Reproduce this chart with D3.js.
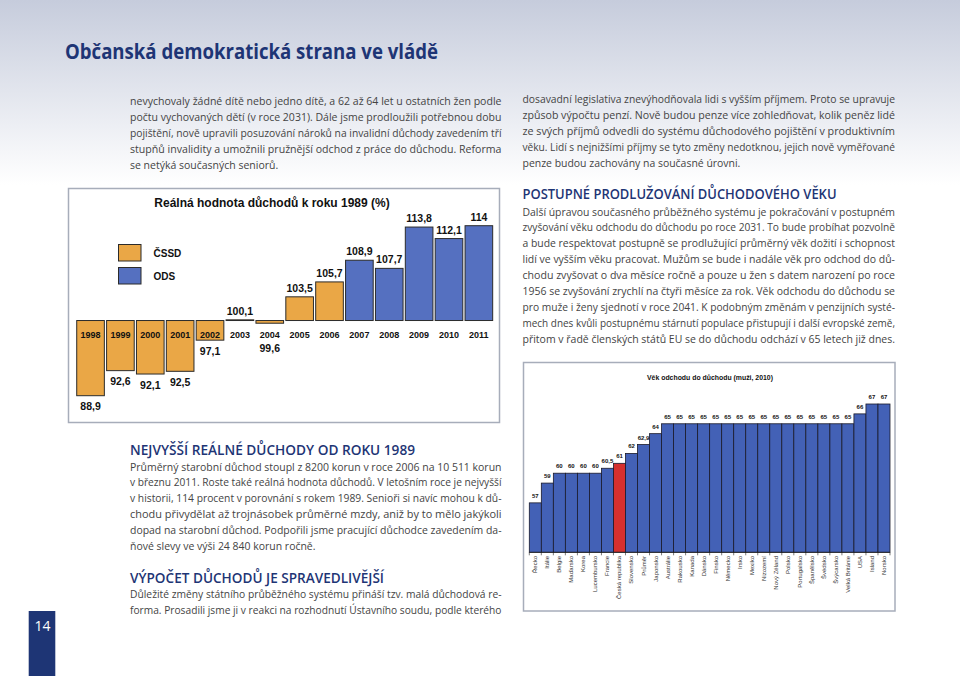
<!DOCTYPE html>
<html><head><meta charset="utf-8">
<script src="https://cdn.jsdelivr.net/npm/d3@7"></script>
<style>
html,body{margin:0;padding:0;background:#fff;}
svg{display:block;}
</style></head>
<body>
<svg id="page" width="960" height="676"></svg>
<script>
// ---------- DATA ----------
const years = ["1998","1999","2000","2001","2002","2003","2004","2005","2006","2007","2008","2009","2010","2011"];
const realPensionValue = [88.9, 92.6, 92.1, 92.5, 97.1, 100.1, 99.6, 103.5, 105.7, 108.9, 107.7, 113.8, 112.1, 114];
const governingParty = ["ČSSD","ČSSD","ČSSD","ČSSD","ČSSD","ČSSD","ČSSD","ČSSD","ČSSD","ODS","ODS","ODS","ODS","ODS"];
const partyLegend = ["ČSSD","ODS"];
const baseValue = 100;

const countries = ["Řecko","Itálie","Belgie","Maďarsko","Korea","Lucembursko","Francie","Česká republika","Slovensko","Průměr","Japonsko","Austrálie","Rakousko","Kanada","Dánsko","Finsko","Německo","Irsko","Mexiko","Nizozemí","Nový Zéland","Polsko","Portugalsko","Španělsko","Švédsko","Švýcarsko","Velká Británie","USA","Island","Norsko"];
const retirementAge = [57, 59, 60, 60, 60, 60, 60.5, 61, 62, 62.9, 64, 65, 65, 65, 65, 65, 65, 65, 65, 65, 65, 65, 65, 65, 65, 65, 65, 66, 67, 67];
const highlightCountry = "Česká republika";

const pageTitle = "Občanská demokratická strana ve vládě";
const chart1Title = "Reálná hodnota důchodů k roku 1989 (%)";
const chart2Title = "Věk odchodu do důchodu (muži, 2010)";

const paraLeftTop = [
 "nevychovaly žádné dítě nebo jedno dítě, a 62 až 64 let u ostatních žen podle",
 "počtu vychovaných dětí (v roce 2031). Dále jsme prodloužili potřebnou dobu",
 "pojištění, nově upravili posuzování nároků na invalidní důchody zavedením tří",
 "stupňů invalidity a umožnili pružnější odchod z práce do důchodu. Reforma",
 "se netýká současných seniorů."];
const paraRightTop = [
 "dosavadní legislativa znevýhodňovala lidi s vyšším příjmem. Proto se upravuje",
 "způsob výpočtu penzí. Nově budou penze více zohledňovat, kolik peněz lidé",
 "ze svých příjmů odvedli do systému důchodového pojištění v produktivním",
 "věku. Lidí s nejnižšími příjmy se tyto změny nedotknou, jejich nově vyměřované",
 "penze budou zachovány na současné úrovni."];
const headRight = "POSTUPNÉ PRODLUŽOVÁNÍ DŮCHODOVÉHO VĚKU";
const paraRight = [
 "Další úpravou současného průběžného systému je pokračování v postupném",
 "zvyšování věku odchodu do důchodu po roce 2031. To bude probíhat pozvolně",
 "a bude respektovat postupně se prodlužující průměrný věk dožití i schopnost",
 "lidí ve vyšším věku pracovat. Mužům se bude i nadále věk pro odchod do dů-",
 "chodu zvyšovat o dva měsíce ročně a pouze u žen s datem narození po roce",
 "1956 se zvyšování zrychlí na čtyři měsíce za rok. Věk odchodu do důchodu se",
 "pro muže i ženy sjednotí v roce 2041. K podobným změnám v penzijních systé-",
 "mech dnes kvůli postupnému stárnutí populace přistupují i další evropské země,",
 "přitom v řadě členských států EU se do důchodu odchází v 65 letech již dnes."];
const headLeft1 = "NEJVYŠŠÍ REÁLNÉ DŮCHODY OD ROKU 1989";
const paraLeft1 = [
 "Průměrný starobní důchod stoupl z 8200 korun v roce 2006 na 10 511 korun",
 "v březnu 2011. Roste také reálná hodnota důchodů. V letošním roce je nejvyšší",
 "v historii, 114 procent v porovnání s rokem 1989. Senioři si navíc mohou k dů-",
 "chodu přivydělat až trojnásobek průměrné mzdy, aniž by to mělo jakýkoli",
 "dopad na starobní důchod. Podpořili jsme pracující důchodce zavedením da-",
 "ňové slevy ve výši 24 840 korun ročně."];
const headLeft2 = "VÝPOČET DŮCHODŮ JE SPRAVEDLIVĚJŠÍ";
const paraLeft2 = [
 "Důležité změny státního průběžného systému přináší tzv. malá důchodová re-",
 "forma. Prosadili jsme ji v reakci na rozhodnutí Ústavního soudu, podle kterého"];
const pageNumber = "14";

// ---------- PAGE ----------
const svg = d3.select("#page");
const defs = svg.append("defs");
const grad = defs.append("linearGradient").attr("id","bg").attr("x1",0).attr("y1",0).attr("x2",0).attr("y2",1);
grad.append("stop").attr("offset","0%").attr("stop-color","#c6ccdc");
grad.append("stop").attr("offset","100%").attr("stop-color","#ffffff");
svg.append("rect").attr("x",0).attr("y",0).attr("width",960).attr("height",185).attr("fill","url(#bg)");

const navy = "#1e3575";
const textCol = "#444444";
const bodyFont = "'Open Sans', 'Noto Sans', sans-serif";
const chartFont = "'Liberation Sans', Arial, sans-serif";

svg.append("text").attr("x",65).attr("y",59).text(pageTitle)
  .attr("font-family",bodyFont).attr("font-weight",700).attr("font-size",21.5)
  .attr("fill",navy).attr("textLength",373).attr("lengthAdjust","spacingAndGlyphs");

function paragraph(lines, x, y0, lh, width, lastJustified) {
  const g = svg.append("g").attr("font-family",bodyFont).attr("font-size",11).attr("fill",textCol);
  const nodes = lines.map((l,i) => g.append("text").attr("x",x).attr("y",y0 + i*lh).text(l));
  let ratios = [];
  nodes.forEach((n,i) => {
    const isLast = i === lines.length-1 && !lastJustified;
    if (!isLast) {
      ratios.push(width / n.node().getComputedTextLength());
      n.attr("textLength",width).attr("lengthAdjust","spacingAndGlyphs");
    }
  });
  if (!lastJustified) {
    const r = d3.mean(ratios) || 1;
    const n = nodes[nodes.length-1];
    const w = n.node().getComputedTextLength()*Math.min(r,1);
    n.attr("textLength",w).attr("lengthAdjust","spacingAndGlyphs");
  }
}
function heading(t, x, y, width) {
  svg.append("text").attr("x",x).attr("y",y).text(t)
    .attr("font-family",bodyFont).attr("font-weight",600).attr("font-size",13.5)
    .attr("fill",navy).attr("textLength",width).attr("lengthAdjust","spacingAndGlyphs");
}

paragraph(paraLeftTop, 130, 104.5, 16.1, 371.5, false);
paragraph(paraRightTop, 522.5, 103, 16, 372.5, false);
heading(headRight, 522.5, 199, 314);
paragraph(paraRight, 522.5, 215.5, 15.9, 372.5, true);
heading(headLeft1, 130, 454.5, 285);
paragraph(paraLeft1, 130, 470.5, 15.95, 371.5, false);
heading(headLeft2, 130, 582.5, 254);
paragraph(paraLeft2, 130, 597.5, 16, 371.5, true);

// page number
svg.append("rect").attr("x",28.7).attr("y",611).attr("width",26.6).attr("height",65).attr("fill",navy);
svg.append("text").attr("x",42.5).attr("y",630.5).text(pageNumber).attr("text-anchor","middle")
  .attr("font-family",bodyFont).attr("font-size",14).attr("fill","#fff");

// ---------- CHART 1 ----------
const orange = "#eaa746", blue1 = "#5570c0", outline = "#2b2b2b";
const partyColor = d3.scaleOrdinal().domain(partyLegend).range([orange, blue1]);
const c1 = svg.append("g");
c1.append("rect").attr("x",68.5).attr("y",188.5).attr("width",431).attr("height",234)
  .attr("fill","#fff").attr("stroke","#a7adba").attr("stroke-width",1.5);
c1.append("text").attr("x",272).attr("y",206.5).attr("text-anchor","middle").text(chart1Title)
  .attr("font-family",chartFont).attr("font-weight",700).attr("font-size",12).attr("fill","#111");

const x1 = d3.scaleBand().domain(years).range([75.6, 493.8]).paddingInner(0.075).paddingOuter(0.0375);
const y1 = d3.scaleLinear().domain([88.9, 114]).range([395.7, 225.7]);
const data1 = years.map((yr,i) => ({yr, v: realPensionValue[i], p: governingParty[i]}));
const fmt = v => (v % 1 === 0) ? String(v) : v.toFixed(1).replace(".", ",");

c1.selectAll("rect.bar").data(data1).join("rect").attr("class","bar")
  .attr("x", d => x1(d.yr)).attr("width", x1.bandwidth())
  .attr("y", d => Math.min(y1(d.v), y1(baseValue)))
  .attr("height", d => Math.max(0.6, Math.abs(y1(d.v) - y1(baseValue))))
  .attr("fill", d => partyColor(d.p)).attr("stroke", outline).attr("stroke-width",1);

const yearLabelY = y1(baseValue) + 17;
c1.selectAll("text.yr").data(data1).join("text").attr("class","yr")
  .attr("x", d => x1(d.yr) + x1.bandwidth()/2).attr("y", yearLabelY)
  .attr("text-anchor","middle").text(d => d.yr)
  .attr("font-family",chartFont).attr("font-weight",700).attr("font-size",9).attr("fill","#111");

c1.selectAll("text.val").data(data1).join("text").attr("class","val")
  .attr("x", d => x1(d.yr) + x1.bandwidth()/2)
  .attr("y", d => d.v >= baseValue ? y1(d.v) - 5 : Math.max(y1(d.v), yearLabelY) + 14.5)
  .attr("text-anchor","middle").text(d => fmt(d.v))
  .attr("font-family",chartFont).attr("font-weight",700).attr("font-size",10.5).attr("fill","#111");

const leg = c1.selectAll("g.leg").data(partyLegend).join("g").attr("class","leg")
  .attr("transform",(d,i) => `translate(118.5, ${244.5 + i*23})`);
leg.append("rect").attr("width",22.5).attr("height",16.5).attr("fill", d => partyColor(d))
  .attr("stroke",outline).attr("stroke-width",1);
leg.append("text").attr("x",35).attr("y",12).text(d => d)
  .attr("font-family",chartFont).attr("font-weight",700).attr("font-size",10).attr("fill","#111");

// ---------- CHART 2 ----------
const blue2 = "#4361b6", red2 = "#d5302e";
const c2 = svg.append("g");
c2.append("rect").attr("x",523.5).attr("y",362.5).attr("width",371.5).attr("height",248.5)
  .attr("fill","#fff").attr("stroke","#a7adba").attr("stroke-width",1.5);
c2.append("text").attr("x",710).attr("y",380).attr("text-anchor","middle").text(chart2Title)
  .attr("font-family",chartFont).attr("font-weight",700).attr("font-size",6.8).attr("fill","#111")
  .attr("textLength",126).attr("lengthAdjust","spacingAndGlyphs");

const x2 = d3.scaleBand().domain(countries).range([529.3, 890]).padding(0);
const y2 = d3.scaleLinear().domain([52, 67]).range([552.3, 404]);
const data2 = countries.map((c,i) => ({c, v: retirementAge[i]}));
c2.selectAll("rect.bar").data(data2).join("rect").attr("class","bar")
  .attr("x", d => x2(d.c)).attr("width", x2.bandwidth())
  .attr("y", d => y2(d.v)).attr("height", d => y2(52) - y2(d.v))
  .attr("fill", d => d.c === highlightCountry ? red2 : blue2)
  .attr("stroke","#1a1a2a").attr("stroke-width",0.8);
c2.selectAll("text.val").data(data2).join("text").attr("class","val")
  .attr("x", d => x2(d.c) + x2.bandwidth()/2).attr("y", d => y2(d.v) - 5)
  .attr("text-anchor","middle").text(d => fmt(d.v))
  .attr("font-family",chartFont).attr("font-weight",700).attr("font-size",6).attr("fill","#111");
c2.append("line").attr("x1",529.3).attr("x2",890).attr("y1",y2(52)).attr("y2",y2(52))
  .attr("stroke","#222").attr("stroke-width",0.8);
c2.selectAll("line.tick").data(countries.concat(["_end"])).join("line").attr("class","tick")
  .attr("x1",(d,i) => 529.3 + i*x2.step()).attr("x2",(d,i) => 529.3 + i*x2.step())
  .attr("y1",y2(52)).attr("y2",y2(52)+3).attr("stroke","#222").attr("stroke-width",0.6);
c2.selectAll("text.cty").data(data2).join("text").attr("class","cty")
  .attr("transform", d => `translate(${x2(d.c) + x2.bandwidth()/2 + 2}, 556) rotate(-90)`)
  .attr("text-anchor","end").text(d => d.c)
  .attr("font-family",chartFont).attr("font-size",6).attr("fill","#333");
</script>
</body></html>
